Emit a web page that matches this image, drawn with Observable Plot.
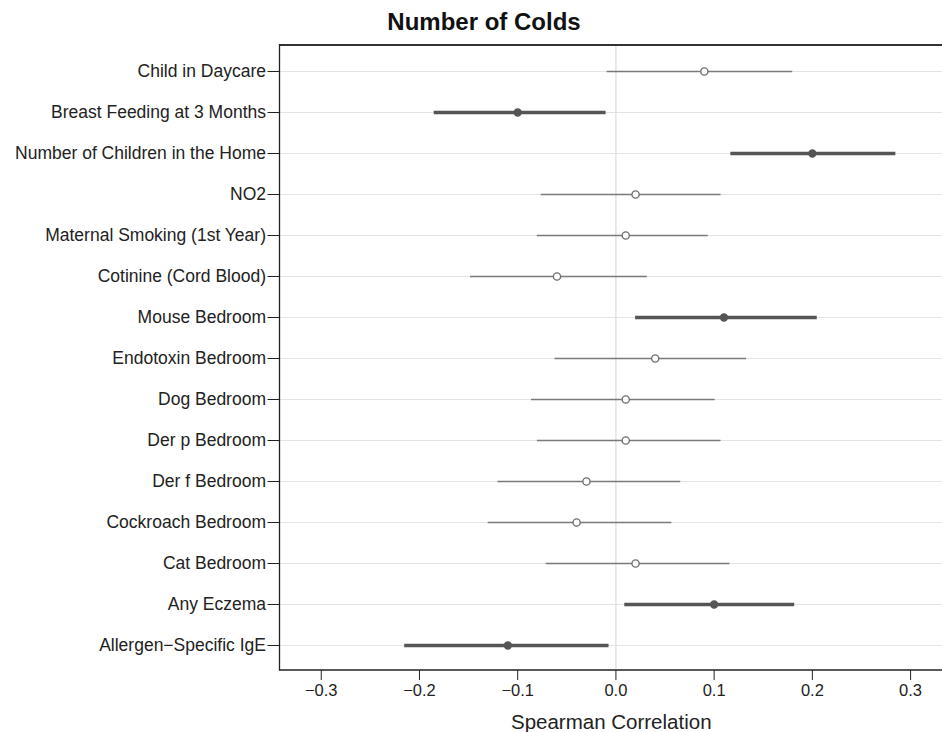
<!DOCTYPE html>
<html>
<head>
<meta charset="utf-8">
<script src="https://cdn.jsdelivr.net/npm/d3@7"></script>
<script src="https://cdn.jsdelivr.net/npm/@observablehq/plot@0.6"></script>
<style>
  html, body { margin: 0; padding: 0; background: #fff; overflow: hidden; }
  #title { width: 942px; box-sizing: border-box; padding-left: 26px; padding-top: 8px; height: 40px; line-height: 40px;
           text-align: center; font: bold 24px "Liberation Sans", Arial, sans-serif; color: #111; overflow: visible; }
  #chart svg { display: block; }
</style>
</head>
<body>
<div id="title">Number of Colds</div>
<div id="chart"></div>
<script>
const labels = [
  "Child in Daycare",
  "Breast Feeding at 3 Months",
  "Number of Children in the Home",
  "NO2",
  "Maternal Smoking (1st Year)",
  "Cotinine (Cord Blood)",
  "Mouse Bedroom",
  "Endotoxin Bedroom",
  "Dog Bedroom",
  "Der p Bedroom",
  "Der f Bedroom",
  "Cockroach Bedroom",
  "Cat Bedroom",
  "Any Eczema",
  "Allergen\u2212Specific IgE"
];
const estimate = [0.09, -0.10, 0.20, 0.02, 0.01, -0.06, 0.11, 0.04, 0.01, 0.01, -0.03, -0.04, 0.02, 0.10, -0.11];
const lower    = [-0.009, -0.185, 0.117, -0.076, -0.080, -0.148, 0.020, -0.062, -0.086, -0.080, -0.120, -0.130, -0.071, 0.009, -0.215];
const upper    = [0.180, -0.010, 0.285, 0.107, 0.094, 0.032, 0.205, 0.133, 0.101, 0.107, 0.066, 0.057, 0.116, 0.182, -0.007];
const significant = [false, true, true, false, false, false, true, false, false, false, false, false, false, true, true];
const xTicks = [-0.3, -0.2, -0.1, 0.0, 0.1, 0.2, 0.3];

const data = labels.map((label, i) => ({
  label, est: estimate[i], lo: lower[i], hi: upper[i], sig: significant[i]
}));
const sig = data.filter(d => d.sig);
const nonsig = data.filter(d => !d.sig);

const font = '"Liberation Sans", Arial, sans-serif';

// open frame: left, top and bottom sides only (the right side falls off the page)
function openFrame(index, scales, values, dimensions) {
  const { width, height, marginTop, marginBottom, marginLeft, marginRight } = dimensions;
  const x0 = marginLeft, x1 = width - marginRight, y0 = marginTop, y1 = height - marginBottom;
  const g = d3.create("svg:g").attr("fill", "none");
  g.append("line").attr("x1", x0).attr("x2", x1).attr("y1", y0).attr("y2", y0)
    .attr("stroke", "#333").attr("stroke-width", 2);
  g.append("line").attr("x1", x0).attr("x2", x1).attr("y1", y1).attr("y2", y1)
    .attr("stroke", "#222").attr("stroke-width", 1.3);
  g.append("line").attr("x1", x0).attr("x2", x0).attr("y1", y0 - 1).attr("y2", y1 + 0.65)
    .attr("stroke", "#222").attr("stroke-width", 1.3);
  return g.node();
}

const plot = Plot.plot({
  width: 942,
  height: 692,
  marginTop: 5,
  marginBottom: 62,
  marginLeft: 279.5,
  marginRight: 0,
  style: { fontFamily: font, color: "#222", background: "#fff" },
  x: { domain: [-0.342, 0.3325], ticks: xTicks },
  y: { type: "point", domain: labels, padding: 0.61 },
  marks: [
    Plot.ruleY(labels, { y: d => d, stroke: "#e4e4e4", strokeWidth: 1.2 }),
    Plot.ruleX([0], { stroke: "#dcdcdc", strokeWidth: 1.2 }),
    Plot.ruleY(nonsig, { y: "label", x1: "lo", x2: "hi", stroke: "#7a7a7a", strokeWidth: 1.6 }),
    Plot.ruleY(sig, { y: "label", x1: "lo", x2: "hi", stroke: "#555", strokeWidth: 3.6 }),
    Plot.dot(nonsig, { x: "est", y: "label", r: 3.6, stroke: "#707070", strokeWidth: 1.4, fill: "#fff" }),
    Plot.dot(sig, { x: "est", y: "label", r: 3.4, fill: "#555", stroke: "#555" }),
    Plot.axisY({ tickSize: 12, tickPadding: 2, fontSize: 17.5, label: null, stroke: "#222" }),
    Plot.axisX({ ticks: xTicks, tickFormat: d3.format(".1f"), tickSize: 10, tickPadding: 4, fontSize: 16.5,
                 label: "Spearman Correlation", labelAnchor: "center", labelArrow: "none", labelOffset: 58 }),
    openFrame
  ]
});
document.getElementById("chart").appendChild(plot);
plot.querySelectorAll('[aria-label="x-axis label"] text').forEach(t => t.setAttribute("font-size", 20.5));
</script>
</body>
</html>
